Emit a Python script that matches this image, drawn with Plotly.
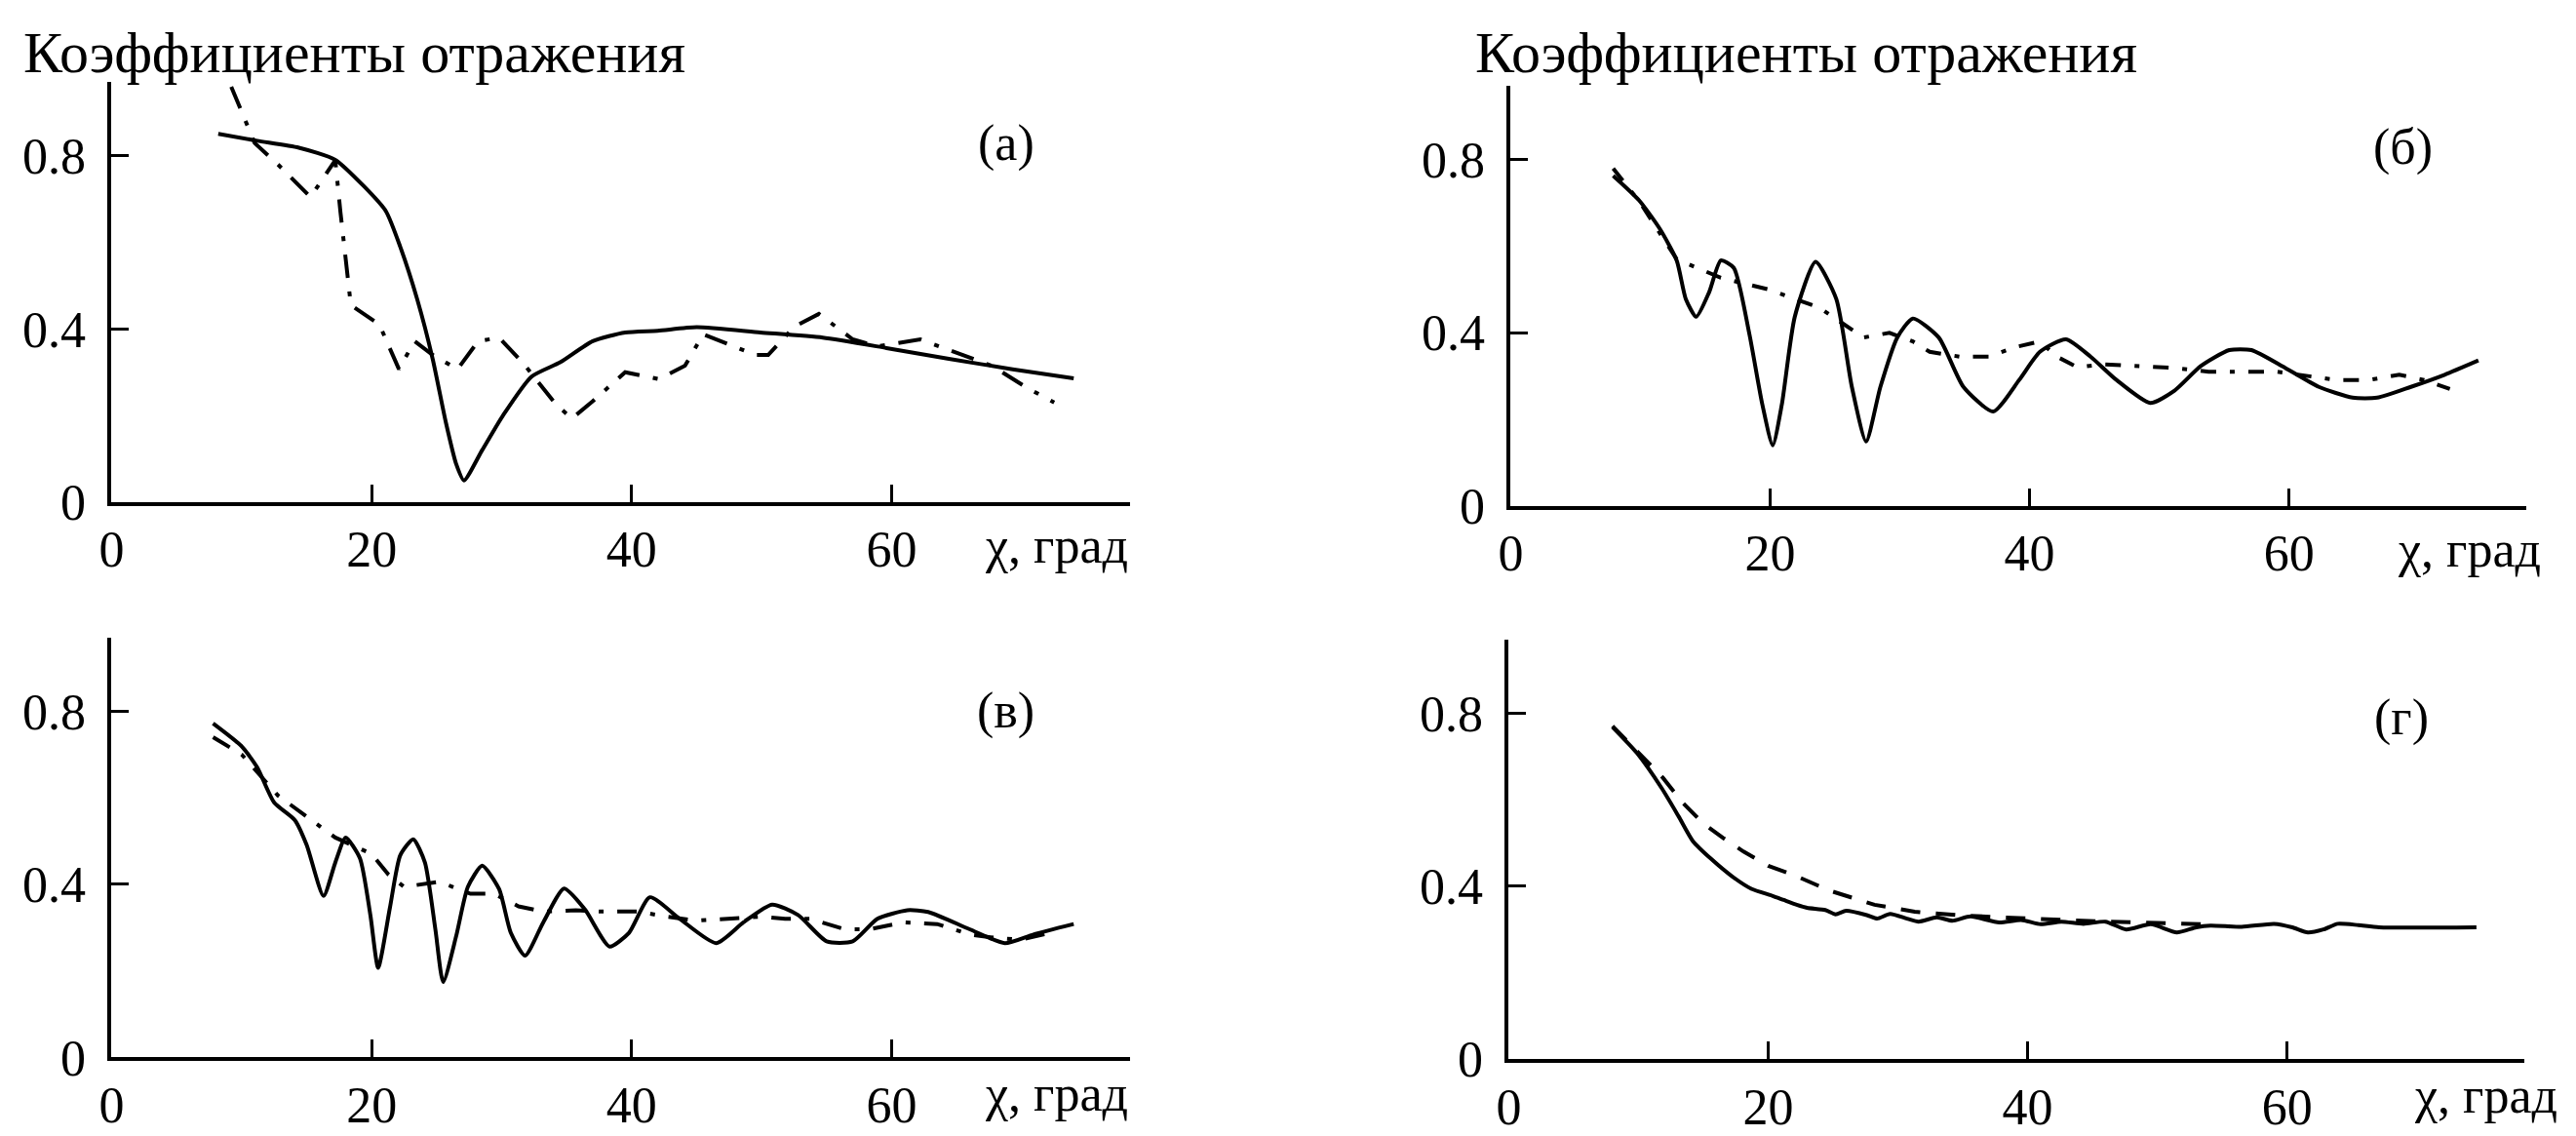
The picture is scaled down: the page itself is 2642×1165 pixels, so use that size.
import plotly.graph_objects as go

# ---------------- data ----------------
# Panel (а)
a_solid_x = [8.2, 11.2, 14.4, 17.2, 19.4, 21.1, 22.2, 23.5, 24.7, 25.7, 26.5, 27.1, 28.5, 30.1, 32.3, 34.5, 37.0, 39.5, 42.0, 45.0, 49.9, 54.7, 59.6, 64.4, 69.3, 74.0]
a_solid_y = [0.851, 0.835, 0.819, 0.791, 0.73, 0.672, 0.59, 0.469, 0.33, 0.185, 0.088, 0.05, 0.12, 0.20, 0.29, 0.323, 0.372, 0.392, 0.396, 0.404, 0.392, 0.38, 0.356, 0.331, 0.307, 0.286]
a_dash_x = [9.2, 11.0, 12.8, 15.3, 17.2, 17.6, 18.4, 20.6, 22.1, 23.3, 24.7, 26.6, 28.2, 29.8, 31.6, 34.2, 35.4, 37.0, 39.5, 42.1, 44.1, 45.5, 49.5, 50.5, 52.5, 54.4, 57.0, 58.9, 62.2, 64.8, 67.7, 70.3, 72.5]
a_dash_y = [0.96, 0.83, 0.78, 0.705, 0.79, 0.67, 0.455, 0.41, 0.307, 0.372, 0.34, 0.307, 0.372, 0.38, 0.323, 0.225, 0.193, 0.233, 0.30, 0.284, 0.315, 0.388, 0.34, 0.34, 0.405, 0.435, 0.376, 0.36, 0.376, 0.347, 0.315, 0.266, 0.23]

# Panel (б)
b_solid_x = [7.9, 9.9, 11.5, 12.8, 13.5, 14.3, 15.3, 16.2, 17.2, 18.4, 19.4, 20.2, 20.9, 21.9, 23.5, 25.1, 26.3, 27.4, 28.5, 29.8, 31.0, 33.0, 34.9, 37.2, 39.2, 40.8, 42.8, 44.7, 46.7, 49.3, 51.2, 53.2, 55.4, 57.1, 59.7, 62.3, 64.9, 66.8, 69.4, 72.0, 74.6]
b_solid_y = [0.763, 0.706, 0.64, 0.567, 0.478, 0.437, 0.494, 0.567, 0.55, 0.397, 0.234, 0.14, 0.234, 0.437, 0.564, 0.478, 0.275, 0.149, 0.275, 0.389, 0.433, 0.389, 0.275, 0.218, 0.291, 0.356, 0.385, 0.345, 0.291, 0.238, 0.267, 0.323, 0.36, 0.36, 0.319, 0.275, 0.25, 0.25, 0.275, 0.303, 0.336]
b_dash_x = [7.9, 10.0, 12.8, 16.2, 19.9, 23.8, 27.2, 29.2, 31.0, 32.3, 34.6, 36.9, 38.9, 40.8, 42.1, 43.7, 45.6, 48.3, 51.0, 53.8, 57.1, 59.1, 63.6, 66.2, 68.5, 70.4, 72.4]
b_dash_y = [0.78, 0.70, 0.57, 0.527, 0.50, 0.458, 0.389, 0.40, 0.38, 0.356, 0.345, 0.345, 0.367, 0.38, 0.345, 0.32, 0.327, 0.323, 0.319, 0.31, 0.31, 0.31, 0.291, 0.291, 0.303, 0.291, 0.27]

# Panel (в)
c_solid_x = [7.8, 10.0, 11.2, 12.5, 14.1, 15.0, 16.3, 17.2, 18.0, 19.1, 19.9, 20.5, 21.4, 22.2, 23.2, 24.1, 24.9, 25.5, 26.5, 27.4, 28.5, 29.8, 30.7, 31.8, 33.2, 34.8, 36.4, 38.3, 39.8, 41.4, 43.7, 46.5, 48.6, 50.8, 52.8, 55.0, 57.0, 58.9, 61.2, 62.8, 66.0, 68.7, 70.9, 74.0]
c_solid_y = [0.772, 0.719, 0.67, 0.589, 0.548, 0.491, 0.373, 0.45, 0.508, 0.46, 0.329, 0.207, 0.345, 0.467, 0.504, 0.45, 0.296, 0.174, 0.28, 0.394, 0.443, 0.389, 0.288, 0.235, 0.312, 0.39, 0.342, 0.256, 0.288, 0.37, 0.32, 0.264, 0.312, 0.353, 0.329, 0.268, 0.268, 0.32, 0.34, 0.336, 0.296, 0.264, 0.284, 0.308]
c_dash_x = [7.8, 10.0, 12.8, 15.0, 17.2, 20.0, 21.3, 22.5, 25.2, 27.6, 29.4, 31.3, 33.2, 35.7, 37.6, 40.5, 42.7, 45.0, 47.6, 49.9, 51.8, 53.7, 56.4, 58.3, 60.9, 63.5, 66.0, 68.0, 69.9, 72.5]
c_dash_y = [0.74, 0.70, 0.605, 0.557, 0.508, 0.47, 0.422, 0.394, 0.406, 0.378, 0.378, 0.349, 0.337, 0.34, 0.337, 0.337, 0.325, 0.316, 0.32, 0.325, 0.32, 0.32, 0.296, 0.296, 0.312, 0.308, 0.284, 0.276, 0.272, 0.29]

# Panel (г)
d_solid_x = [8.0, 9.9, 11.8, 13.1, 14.2, 15.6, 17.2, 18.7, 20.3, 21.2, 22.2, 23.0, 24.4, 25.2, 26.0, 27.6, 28.4, 29.4, 30.7, 31.6, 33.0, 34.2, 35.6, 37.8, 39.5, 41.0, 42.6, 44.3, 46.0, 47.6, 49.5, 51.5, 53.0, 54.1, 56.5, 59.0, 60.4, 61.6, 62.8, 63.9, 65.5, 67.1, 74.6]
d_solid_y = [0.768, 0.707, 0.626, 0.561, 0.504, 0.463, 0.423, 0.394, 0.378, 0.368, 0.357, 0.350, 0.345, 0.335, 0.343, 0.333, 0.325, 0.336, 0.325, 0.318, 0.328, 0.320, 0.330, 0.316, 0.322, 0.312, 0.318, 0.313, 0.318, 0.300, 0.312, 0.293, 0.305, 0.309, 0.306, 0.313, 0.305, 0.293, 0.300, 0.313, 0.310, 0.305, 0.305]
d_dash_x = [8.0, 9.9, 11.9, 13.4, 15.0, 16.5, 18.1, 20.0, 22.2, 24.7, 28.2, 31.3, 34.6, 38.0, 42.0, 46.0, 50.0, 54.0]
d_dash_y = [0.77, 0.71, 0.65, 0.593, 0.545, 0.512, 0.48, 0.447, 0.423, 0.39, 0.357, 0.341, 0.333, 0.328, 0.322, 0.318, 0.315, 0.312]

x_ticks = [0, 20, 40, 60]
y_ticks = [0, 0.4, 0.8]
y_tick_labels = ["0", "0.4", "0.8"]
panel_labels = ["(а)", "(б)", "(в)", "(г)"]
title_text = "Коэффициенты отражения"
x_label = "χ, град"

# ---------------- layout geometry ----------------
W, H = 2642, 1165
X_MAX = 78.3
Y_MAX = 0.97
FONT = "Liberation Serif, Times New Roman, serif"
TICK_SIZE = 52

def xdom(px0, pxpd):
    return [px0 / W, (px0 + X_MAX * pxpd) / W]

def ydom(py0, pxpu):
    return [1 - py0 / H, 1 - (py0 - Y_MAX * pxpu) / H]

def px_x(px):
    return px / W

def px_y(py):
    return 1 - py / H

panels = [
    dict(s=(a_solid_x, a_solid_y), d=(a_dash_x, a_dash_y), xd=xdom(102, 13.4), yd=ydom(528, 455),
         dash="24px,14px,5px,14px", lab_y=0.83, xl=(1000, 574), title=(9, 55)),
    dict(s=(b_solid_x, b_solid_y), d=(b_dash_x, b_dash_y), xd=xdom(1544, 13.37), yd=ydom(532, 455),
         dash="16px,14px,5px,14px", lab_y=0.83, xl=(2456, 578), title=(1505, 55)),
    dict(s=(c_solid_x, c_solid_y), d=(c_dash_x, c_dash_y), xd=xdom(102, 13.4), yd=ydom(1112, 455),
         dash="20px,14px,5px,14px", lab_y=0.80, xl=(1000, 1150), title=None),
    dict(s=(d_solid_x, d_solid_y), d=(d_dash_x, d_dash_y), xd=xdom(1542, 13.37), yd=ydom(1114, 455),
         dash="20px,16px", lab_y=0.79, xl=(2473, 1152), title=None),
]

fig = go.Figure()
layout = dict(
    width=W, height=H,
    margin=dict(l=0, r=0, t=0, b=0),
    paper_bgcolor="white", plot_bgcolor="white",
    showlegend=False,
    font=dict(family=FONT, size=TICK_SIZE, color="black"),
)

annotations = []
for i, p in enumerate(panels):
    n = "" if i == 0 else str(i + 1)
    xa, ya = "x" + n, "y" + n
    fig.add_trace(go.Scatter(x=p["s"][0], y=p["s"][1], mode="lines", xaxis=xa, yaxis=ya,
                             line=dict(color="black", width=4, shape="spline", smoothing=0.6),
                             cliponaxis=False))
    fig.add_trace(go.Scatter(x=p["d"][0], y=p["d"][1], mode="lines", xaxis=xa, yaxis=ya,
                             line=dict(color="black", width=4, dash=p["dash"]),
                             cliponaxis=False))
    layout["xaxis" + n] = dict(
        domain=p["xd"], range=[0, X_MAX], anchor=ya,
        tickvals=x_ticks, ticktext=[str(v) for v in x_ticks],
        ticks="inside", ticklen=18, tickwidth=3, tickcolor="black",
        showline=True, linecolor="black", linewidth=4,
        showgrid=False, zeroline=False,
        tickfont=dict(family=FONT, size=TICK_SIZE, color="black"),
        ticklabelstandoff=0,
    )
    layout["yaxis" + n] = dict(
        domain=p["yd"], range=[0, Y_MAX], anchor=xa,
        tickvals=y_ticks, ticktext=y_tick_labels,
        ticks="inside", ticklen=18, tickwidth=3, tickcolor="black",
        showline=True, linecolor="black", linewidth=4,
        showgrid=False, zeroline=False,
        tickfont=dict(family=FONT, size=TICK_SIZE, color="black"),
        ticklabelstandoff=12,
    )
    # panel letter
    annotations.append(dict(x=68.8, y=p["lab_y"], xref=xa, yref=ya,
                            text=panel_labels[i], showarrow=False,
                            font=dict(family=FONT, size=TICK_SIZE, color="black"),
                            xanchor="center", yanchor="middle"))
    # x-axis label at the right end
    annotations.append(dict(x=px_x(p["xl"][0]), y=px_y(p["xl"][1]), xref="paper", yref="paper",
                            text=x_label, showarrow=False,
                            font=dict(family=FONT, size=TICK_SIZE, color="black"),
                            xanchor="left", yanchor="middle"))
    # title above the upper panels
    if p["title"] is not None:
        annotations.append(dict(x=px_x(p["title"][0]), y=px_y(p["title"][1]), xref="paper", yref="paper",
                                text=title_text, showarrow=False,
                                font=dict(family=FONT, size=60, color="black"),
                                xanchor="left", yanchor="middle"))

layout["annotations"] = annotations
fig.update_layout(**layout)
fig.write_html(
    "out.html",
    config={"displayModeBar": False},
    post_script="document.body.style.margin='0';document.body.style.overflow='hidden';",
)
